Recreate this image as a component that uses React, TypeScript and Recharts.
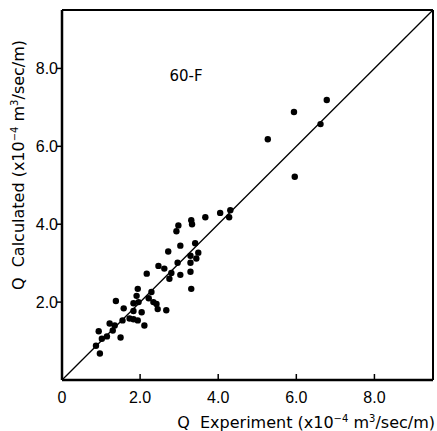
import React from "react";
import {
  ComposedChart,
  Scatter,
  XAxis,
  YAxis,
  ReferenceLine,
} from "recharts";

const expX = [
  5.27, 5.94, 6.78, 6.62, 5.96, 4.31, 4.28, 4.05, 3.67, 3.31, 3.33, 2.98, 2.93,
  3.03, 3.41, 2.72, 3.49, 3.29, 3.44, 2.96, 3.29, 2.8, 2.75, 3.03, 3.29, 3.31,
  2.47, 2.62, 2.17, 1.94, 2.29, 1.91, 1.38, 1.83, 1.96, 2.22, 2.34, 2.42, 1.58,
  1.83, 2.04, 2.45, 2.67, 1.55, 1.73, 1.83, 1.94, 2.11, 1.22, 1.35, 1.3, 0.94,
  1.15, 1.02, 1.5, 0.87, 0.97,
];
const calcY = [
  6.18, 6.88, 7.19, 6.57, 5.22, 4.36, 4.18, 4.29, 4.18, 4.1, 4.0, 3.97, 3.82,
  3.45, 3.51, 3.3, 3.27, 3.19, 3.12, 3.01, 3.01, 2.75, 2.6, 2.7, 2.78, 2.34,
  2.93, 2.86, 2.73, 2.34, 2.26, 2.16, 2.03, 1.97, 2.0, 2.1, 2.0, 1.95, 1.84,
  1.77, 1.74, 1.82, 1.79, 1.53, 1.58, 1.56, 1.53, 1.4, 1.45, 1.4, 1.27, 1.25,
  1.12, 1.06, 1.09, 0.88, 0.68,
];
const xTicks = [0, 2, 4, 6, 8];
const yTicks = [2, 4, 6, 8];
const axisMax = 9.5;
const seriesLabel = "60-F";
const xTitle = "Q  Experiment (x10";
const yTitle = "Q  Calculated (x10";

const data = expX.map((x, i) => ({ x, y: calcY[i] }));

const FONT = "'Liberation Sans', Arial, sans-serif";
const TITLE_FONT = "'DejaVu Sans', sans-serif";

const fmt = (v: number) => (v === 0 ? "0" : v.toFixed(1));

const XTick = (props: any) => {
  const { x, y, payload } = props;
  return (
    <g>
      <line x1={x} x2={x} y1={y} y2={y - 6} stroke="#000" strokeWidth={1.5} />
      <text
        x={x}
        y={y + 23}
        textAnchor="middle"
        fontSize={16}
        fontFamily={FONT}
        fill="#000"
      >
        {fmt(payload.value)}
      </text>
    </g>
  );
};

const YTick = (props: any) => {
  const { x, y, payload } = props;
  return (
    <g>
      <line x1={x} x2={x - 5} y1={y} y2={y} stroke="#000" strokeWidth={1.5} />
      <text
        x={x - 4}
        y={y + 6}
        textAnchor="end"
        fontSize={16}
        fontFamily={FONT}
        fill="#000"
      >
        {fmt(payload.value)}
      </text>
    </g>
  );
};

const Dot = (props: any) => {
  const { cx, cy } = props;
  return <circle cx={cx} cy={cy} r={3.2} fill="#000" />;
};

const Title = ({ text }: { text: string }) => (
  <>
    {text}
    <tspan fontSize={10} dy={-6}>−4</tspan>
    <tspan dy={6}> m</tspan>
    <tspan fontSize={10} dy={-6}>3</tspan>
    <tspan dy={6}>/sec/m)</tspan>
  </>
);

export default function App() {
  return (
    <div
      style={{
        position: "absolute",
        left: 0,
        top: 0,
        width: 437,
        height: 431,
        background: "#fff",
      }}
    >
      <ComposedChart
        width={437}
        height={431}
        margin={{ top: 10, right: 4, left: 0, bottom: 0 }}
      >
        <XAxis
          type="number"
          dataKey="x"
          domain={[0, axisMax]}
          ticks={xTicks}
          interval={0}
          height={51}
          tickSize={0}
          tickMargin={0}
          tickLine={false}
          tick={<XTick />}
          axisLine={{ stroke: "#000", strokeWidth: 2.5 }}
          allowDataOverflow
        />
        <YAxis
          type="number"
          dataKey="y"
          domain={[0, axisMax]}
          ticks={yTicks}
          interval={0}
          width={62}
          tickSize={0}
          tickMargin={0}
          tickLine={false}
          tick={<YTick />}
          axisLine={{ stroke: "#000", strokeWidth: 2.5 }}
          allowDataOverflow
        />
        <ReferenceLine y={axisMax} stroke="#000" strokeWidth={2} />
        <ReferenceLine x={axisMax} stroke="#000" strokeWidth={2} />
        <ReferenceLine
          segment={[
            { x: 0, y: 0 },
            { x: axisMax, y: axisMax },
          ]}
          stroke="#000"
          strokeWidth={1.3}
        />
        <Scatter
          data={data}
          dataKey="y"
          shape={<Dot />}
          isAnimationActive={false}
        />
      </ComposedChart>
      <svg
        width={437}
        height={431}
        style={{ position: "absolute", left: 0, top: 0, pointerEvents: "none" }}
      >
        <text
          x={186}
          y={81}
          textAnchor="middle"
          fontSize={15}
          fontFamily={TITLE_FONT}
          fill="#000"
        >
          {seriesLabel}
        </text>
        <text
          x={435}
          y={428}
          textAnchor="end"
          fontSize={16}
          fontFamily={TITLE_FONT}
          fill="#000"
          style={{ whiteSpace: "pre" }}
        >
          <Title text={xTitle} />
        </text>
        <text
          transform="translate(24,165) rotate(-90)"
          textAnchor="middle"
          fontSize={16}
          fontFamily={TITLE_FONT}
          fill="#000"
          style={{ whiteSpace: "pre" }}
        >
          <Title text={yTitle} />
        </text>
      </svg>
    </div>
  );
}
